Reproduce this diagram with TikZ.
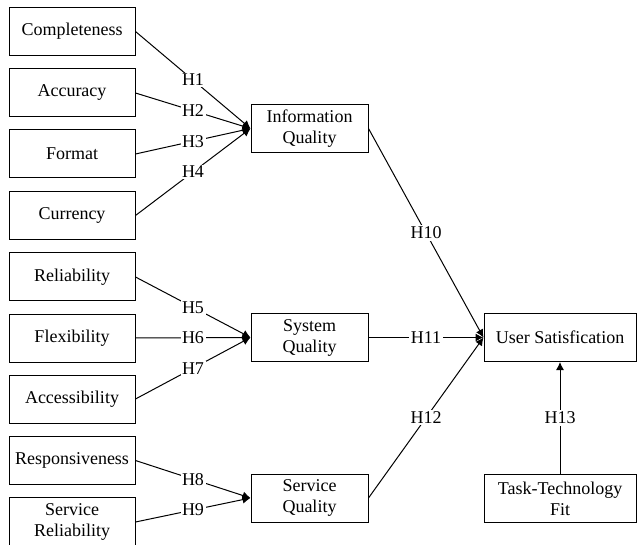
\documentclass[tikz,border=0pt]{standalone}
\usepackage{fontspec}
\setmainfont{Liberation Serif}
\usetikzlibrary{arrows.meta}
\begin{document}
\begin{tikzpicture}[x=1pt,y=-1pt,
  box/.style={draw,line width=1pt,rectangle,inner sep=2pt,align=center,font=\fontsize{18}{21}\selectfont},
  lbox/.style={box,minimum width=126pt,minimum height=48pt},
  mbox/.style={box,minimum width=117pt,minimum height=48pt},
  rbox/.style={box,minimum width=152pt,minimum height=48pt},
  arr/.style={line width=1pt,-{Latex[length=8pt,width=8pt]}},
  lbl/.style={fill=white,inner sep=1.5pt,font=\fontsize{18}{21}\selectfont}]
\useasboundingbox (0,0) rectangle (637,545);
\node[lbox] (c1) at (72,31.5) {Completeness};
\node[lbox] (c2) at (72,93) {Accuracy};
\node[lbox] (c3) at (72,154) {Format};
\node[lbox] (c4) at (72,215.5) {Currency};
\node[lbox] (c5) at (72,277) {Reliability};
\node[lbox] (c6) at (72,338) {Flexibility};
\node[lbox] (c7) at (72,399) {Accessibility};
\node[lbox] (c8) at (72,460.5) {Responsiveness};
\node[lbox,minimum height=50pt] (c9) at (72,522) {Service\\Reliability};
\node[mbox] (iq) at (309.5,128.5) {Information\\Quality};
\node[mbox] (sq) at (309.5,337.5) {System\\Quality};
\node[mbox] (svq) at (309.5,498) {Service\\Quality};
\node[rbox] (us) at (560,337.5) {User Satisfication};
\node[rbox] (ttf) at (560,498.5) {Task-Technology\\Fit};
\draw[arr] (c1.east) -- node[lbl]{H1} (iq.west);
\draw[arr] (c2.east) -- node[lbl]{H2} (iq.west);
\draw[arr] (c3.east) -- node[lbl]{H3} (iq.west);
\draw[arr] (c4.east) -- node[lbl]{H4} (iq.west);
\draw[arr] (c5.east) -- node[lbl]{H5} (sq.west);
\draw[arr] (c6.east) -- node[lbl]{H6} (sq.west);
\draw[arr] (c7.east) -- node[lbl]{H7} (sq.west);
\draw[arr] (c8.east) -- node[lbl]{H8} (svq.west);
\draw[arr] (c9.east) -- node[lbl]{H9} (svq.west);
\draw[arr] (iq.east) -- node[lbl]{H10} (us.west);
\draw[arr] (sq.east) -- node[lbl]{H11} (us.west);
\draw[arr] (svq.east) -- node[lbl]{H12} (us.west);
\draw[arr] (ttf.north) -- node[lbl]{H13} (us.south);
\end{tikzpicture}
\end{document}
